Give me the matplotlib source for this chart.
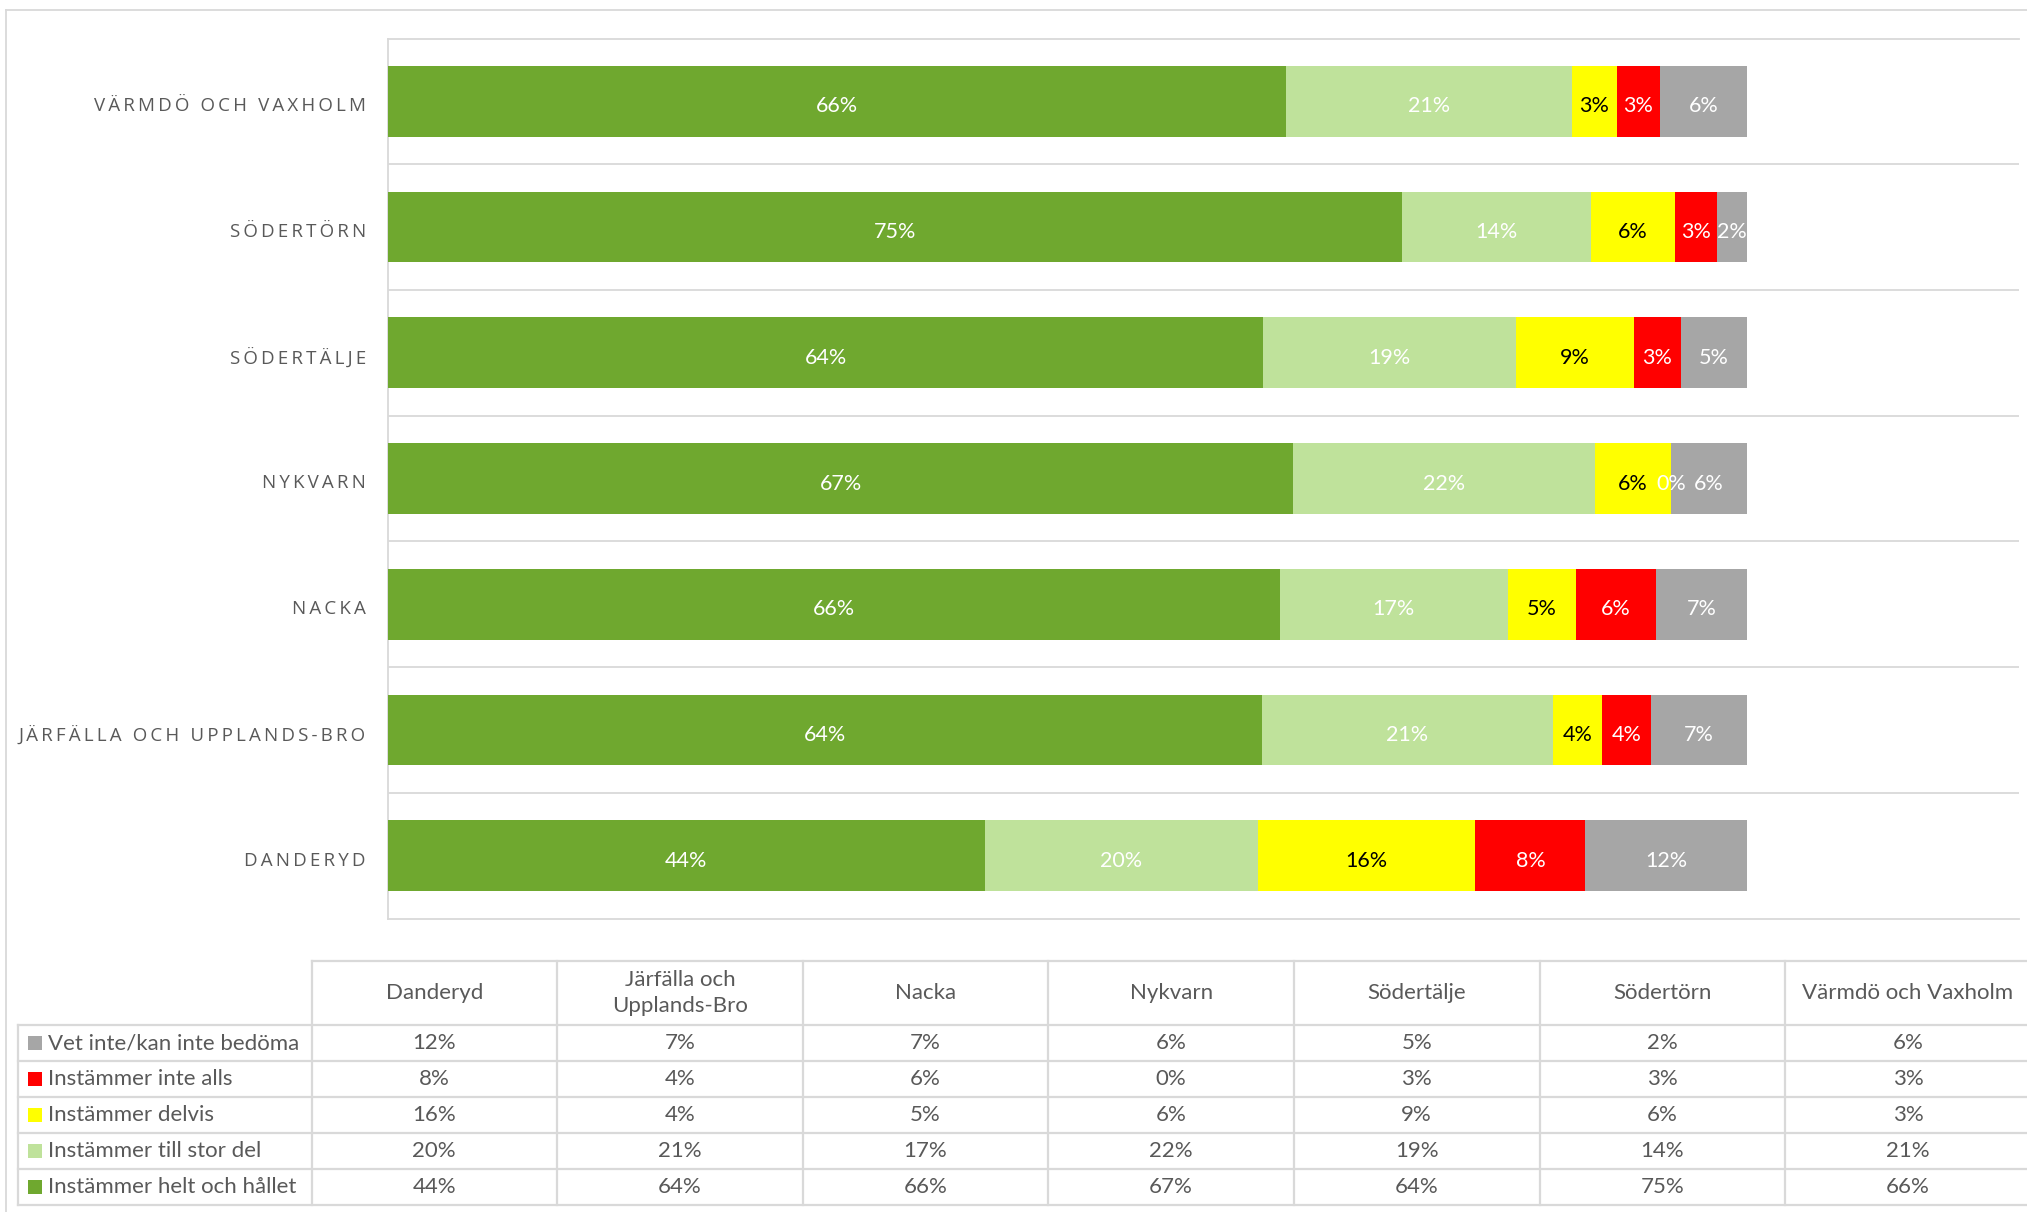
import matplotlib
matplotlib.use('Agg')
import matplotlib.pyplot as plt
from matplotlib.patches import Rectangle
from matplotlib.lines import Line2D
from matplotlib.transforms import ScaledTranslation
import numpy as np

W, H = 2027, 1212

categories = ["Danderyd", "Järfälla och Upplands-Bro", "Nacka", "Nykvarn",
              "Södertälje", "Södertörn", "Värmdö och Vaxholm"]
table_headers = ["Danderyd", "Järfälla och\nUpplands-Bro", "Nacka", "Nykvarn",
                 "Södertälje", "Södertörn", "Värmdö och Vaxholm"]
series_names = ["Instämmer helt och hållet", "Instämmer till stor del",
                "Instämmer delvis", "Instämmer inte alls", "Vet inte/kan inte bedöma"]
helt = [43.9, 64.3, 65.6, 66.6, 64.4, 74.6, 66.1]
stor = [20.1, 21.4, 16.8, 22.2, 18.6, 13.9, 21.0]
delvis = [16.0, 3.6, 5.0, 5.6, 8.7, 6.2, 3.3]
inte = [8.1, 3.6, 5.9, 0.0, 3.4, 3.1, 3.2]
vet = [11.9, 7.1, 6.7, 5.6, 4.9, 2.2, 6.4]

series = [helt, stor, delvis, inte, vet]
colors = ['#6FA82F', '#BFE29B', '#FFFF00', '#FF0000', '#A6A6A6']
label_colors = ['white', 'white', 'black', 'white', 'white']

GRID = '#D9D9D9'
TXT = '#595959'
FONT = ['Lato', 'DejaVu Sans']
CATFONT = ['Open Sans', 'DejaVu Sans']

fig = plt.figure(figsize=(W / 100, H / 100), dpi=100)
fig.patch.set_facecolor('white')
down = ScaledTranslation(0, -5 / 100, fig.dpi_scale_trans)

# ---------- bar chart ----------
ax_l, ax_r, ax_t, ax_b = 388, 2019, 38.5, 918.5
ax = fig.add_axes([ax_l / W, 1 - ax_b / H, (ax_r - ax_l) / W, (ax_b - ax_t) / H])
y = np.arange(len(categories))
left = np.zeros(len(categories))
for vals, c, lc in zip(series, colors, label_colors):
    vals = np.array(vals)
    ax.barh(y, vals, left=left, height=0.5625, color=c, edgecolor='none', zorder=3)
    for yi, (l, v) in enumerate(zip(left, vals)):
        ax.text(l + v / 2, yi, f"{v:.0f}%", ha='center', va='center', color=lc,
                fontsize=15.5, family=FONT, zorder=4,
                transform=ax.transData + down)
    left = left + vals

ax.set_xlim(0, 120)
ax.set_ylim(-0.5, len(categories) - 0.5)
ax.set_xticks([])
ax.set_yticks([])
ax.set_yticks(np.arange(0.5, len(categories) - 0.5, 1), minor=True)
ax.tick_params(axis='y', which='minor', length=0)
ax.grid(True, which='minor', axis='y', color=GRID, linewidth=1.3, zorder=1)
ax.spines['right'].set_visible(False)
for s in ['left', 'top', 'bottom']:
    ax.spines[s].set_color(GRID)
    ax.spines[s].set_linewidth(1.3)

# category labels (letter-spaced caps), placed left of the axis
cat_off = ScaledTranslation(-22 / 100, -5 / 100, fig.dpi_scale_trans)
ytrans = matplotlib.transforms.blended_transform_factory(ax.transAxes, ax.transData)
for yi, c in zip(y, categories):
    ax.text(0, yi, '\u2009'.join(c.upper()), ha='right', va='center',
            fontsize=13.5, family=CATFONT, color=TXT,
            transform=ytrans + cat_off, clip_on=False)

# ---------- overlay: border and data table ----------
ov = fig.add_axes([0, 0, 1, 1])
ov.set_xlim(0, W)
ov.set_ylim(H, 0)
ov.axis('off')
ov.patch.set_alpha(0)

ov.add_line(Line2D([6, 6], [10, H], color=GRID, lw=1.3))
ov.add_line(Line2D([6, W], [10, 10], color=GRID, lw=1.3))

col_x = [311.5 + i * 245.6 for i in range(8)]
row_y = [960.5, 1025, 1061, 1097, 1133, 1169, 1205]
first_x = 18

ov.add_line(Line2D([col_x[0], W], [row_y[0], row_y[0]], color=GRID, lw=1.6))
for ry in row_y[1:]:
    ov.add_line(Line2D([first_x, W], [ry, ry], color=GRID, lw=1.6))
ov.add_line(Line2D([first_x, first_x], [row_y[1], row_y[-1]], color=GRID, lw=1.6))
for cx in col_x[:-1]:
    ov.add_line(Line2D([cx, cx], [row_y[0], row_y[-1]], color=GRID, lw=1.6))

TFS = 16
for i, hdr in enumerate(table_headers):
    ov.text((col_x[i] + col_x[i + 1]) / 2, (row_y[0] + row_y[1]) / 2, hdr,
            ha='center', va='center', fontsize=TFS, family=FONT, color=TXT,
            linespacing=1.35)

for r, k in enumerate(range(len(series) - 1, -1, -1)):
    yc = (row_y[r + 1] + row_y[r + 2]) / 2
    ov.add_patch(Rectangle((28, yc - 7), 14, 14, color=colors[k], lw=0))
    ov.text(48, yc, series_names[k], ha='left', va='center', fontsize=TFS,
            family=FONT, color=TXT)
    for i, v in enumerate(series[k]):
        ov.text((col_x[i] + col_x[i + 1]) / 2, yc, f"{v:.0f}%", ha='center',
                va='center', fontsize=TFS, family=FONT, color=TXT)

fig.savefig('out.png', dpi=100, facecolor='white')
